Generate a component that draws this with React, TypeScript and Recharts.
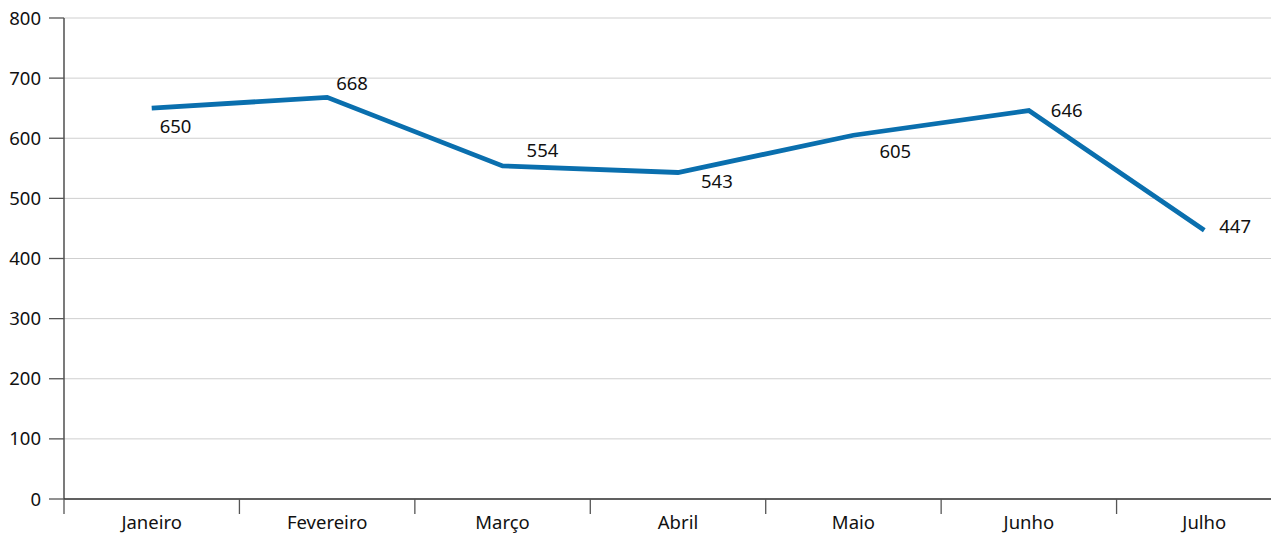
import React from "react";
import { LineChart, Line, XAxis, YAxis, CartesianGrid, LabelList } from "recharts";

const months = ["Janeiro", "Fevereiro", "Março", "Abril", "Maio", "Junho", "Julho"];
const values = [650, 668, 554, 543, 605, 646, 447];
const yTicks = [0, 100, 200, 300, 400, 500, 600, 700, 800];

// label placement (dx, dy of text baseline relative to point)
const labelOffsets: [number, number][] = [
  [8, 25],
  [9, -7],
  [24, -9],
  [23, 15],
  [26, 23],
  [22, 6],
  [15, 3],
];

const data = months.map((m, i) => ({ month: m, value: values[i] }));

const CHART_W = 1284;
const CHART_H = 533;
const Y_W = 56;
const PLOT_W = CHART_W - Y_W;
const BAND = PLOT_W / months.length;
const FONT = "'Noto Sans', 'Open Sans', sans-serif";
const FS = 18.5;

const XTick = (props: any) => {
  const { x, y, payload, index } = props;
  const axisY = y - 19;
  const left = x - BAND / 2;
  return (
    <g>
      <line x1={left} y1={axisY} x2={left} y2={axisY + 15} stroke="#555" strokeWidth={1.3} />
      {index === months.length - 1 && (
        <line x1={x + BAND / 2} y1={axisY} x2={x + BAND / 2} y2={axisY + 15} stroke="#555" strokeWidth={1.3} />
      )}
      <text x={x} y={axisY + 30} textAnchor="middle" fill="#111" fontSize={FS} fontFamily={FONT}>
        {payload.value}
      </text>
    </g>
  );
};

const PointLabel = (props: any) => {
  const { x, y, value, index } = props;
  const [dx, dy] = labelOffsets[index];
  return (
    <text x={x + dx} y={y + dy} fill="#111" fontSize={FS} fontFamily={FONT}>
      {value}
    </text>
  );
};

export default function App() {
  return (
    <div style={{ width: 1271, height: 533, overflow: "hidden", marginTop: -8 }}>
      <LineChart
        width={CHART_W}
        height={CHART_H}
        data={data}
        margin={{ top: 18, right: 0, bottom: 4, left: 0 }}
      >
        <CartesianGrid vertical={false} stroke="#cfcfcf" strokeWidth={1} />
        <XAxis
          dataKey="month"
          scale="band"
          interval={0}
          height={30}
          tickSize={15}
          tickMargin={4}
          tickLine={false}
          axisLine={{ stroke: "#333", strokeWidth: 1.3 }}
          tick={<XTick />}
        />
        <YAxis
          width={Y_W}
          domain={[0, 800]}
          ticks={yTicks}
          interval={0}
          tickSize={15}
          tickMargin={8}
          axisLine={{ stroke: "#333", strokeWidth: 1.3 }}
          tickLine={{ stroke: "#555", strokeWidth: 1.3 }}
          tick={{ fill: "#111", fontSize: FS, fontFamily: FONT }}
        />
        <Line
          type="linear"
          dataKey="value"
          stroke="#0a6fae"
          strokeWidth={4.8}
          dot={false}
          activeDot={false}
          isAnimationActive={false}
        >
          <LabelList dataKey="value" content={<PointLabel />} />
        </Line>
      </LineChart>
    </div>
  );
}
